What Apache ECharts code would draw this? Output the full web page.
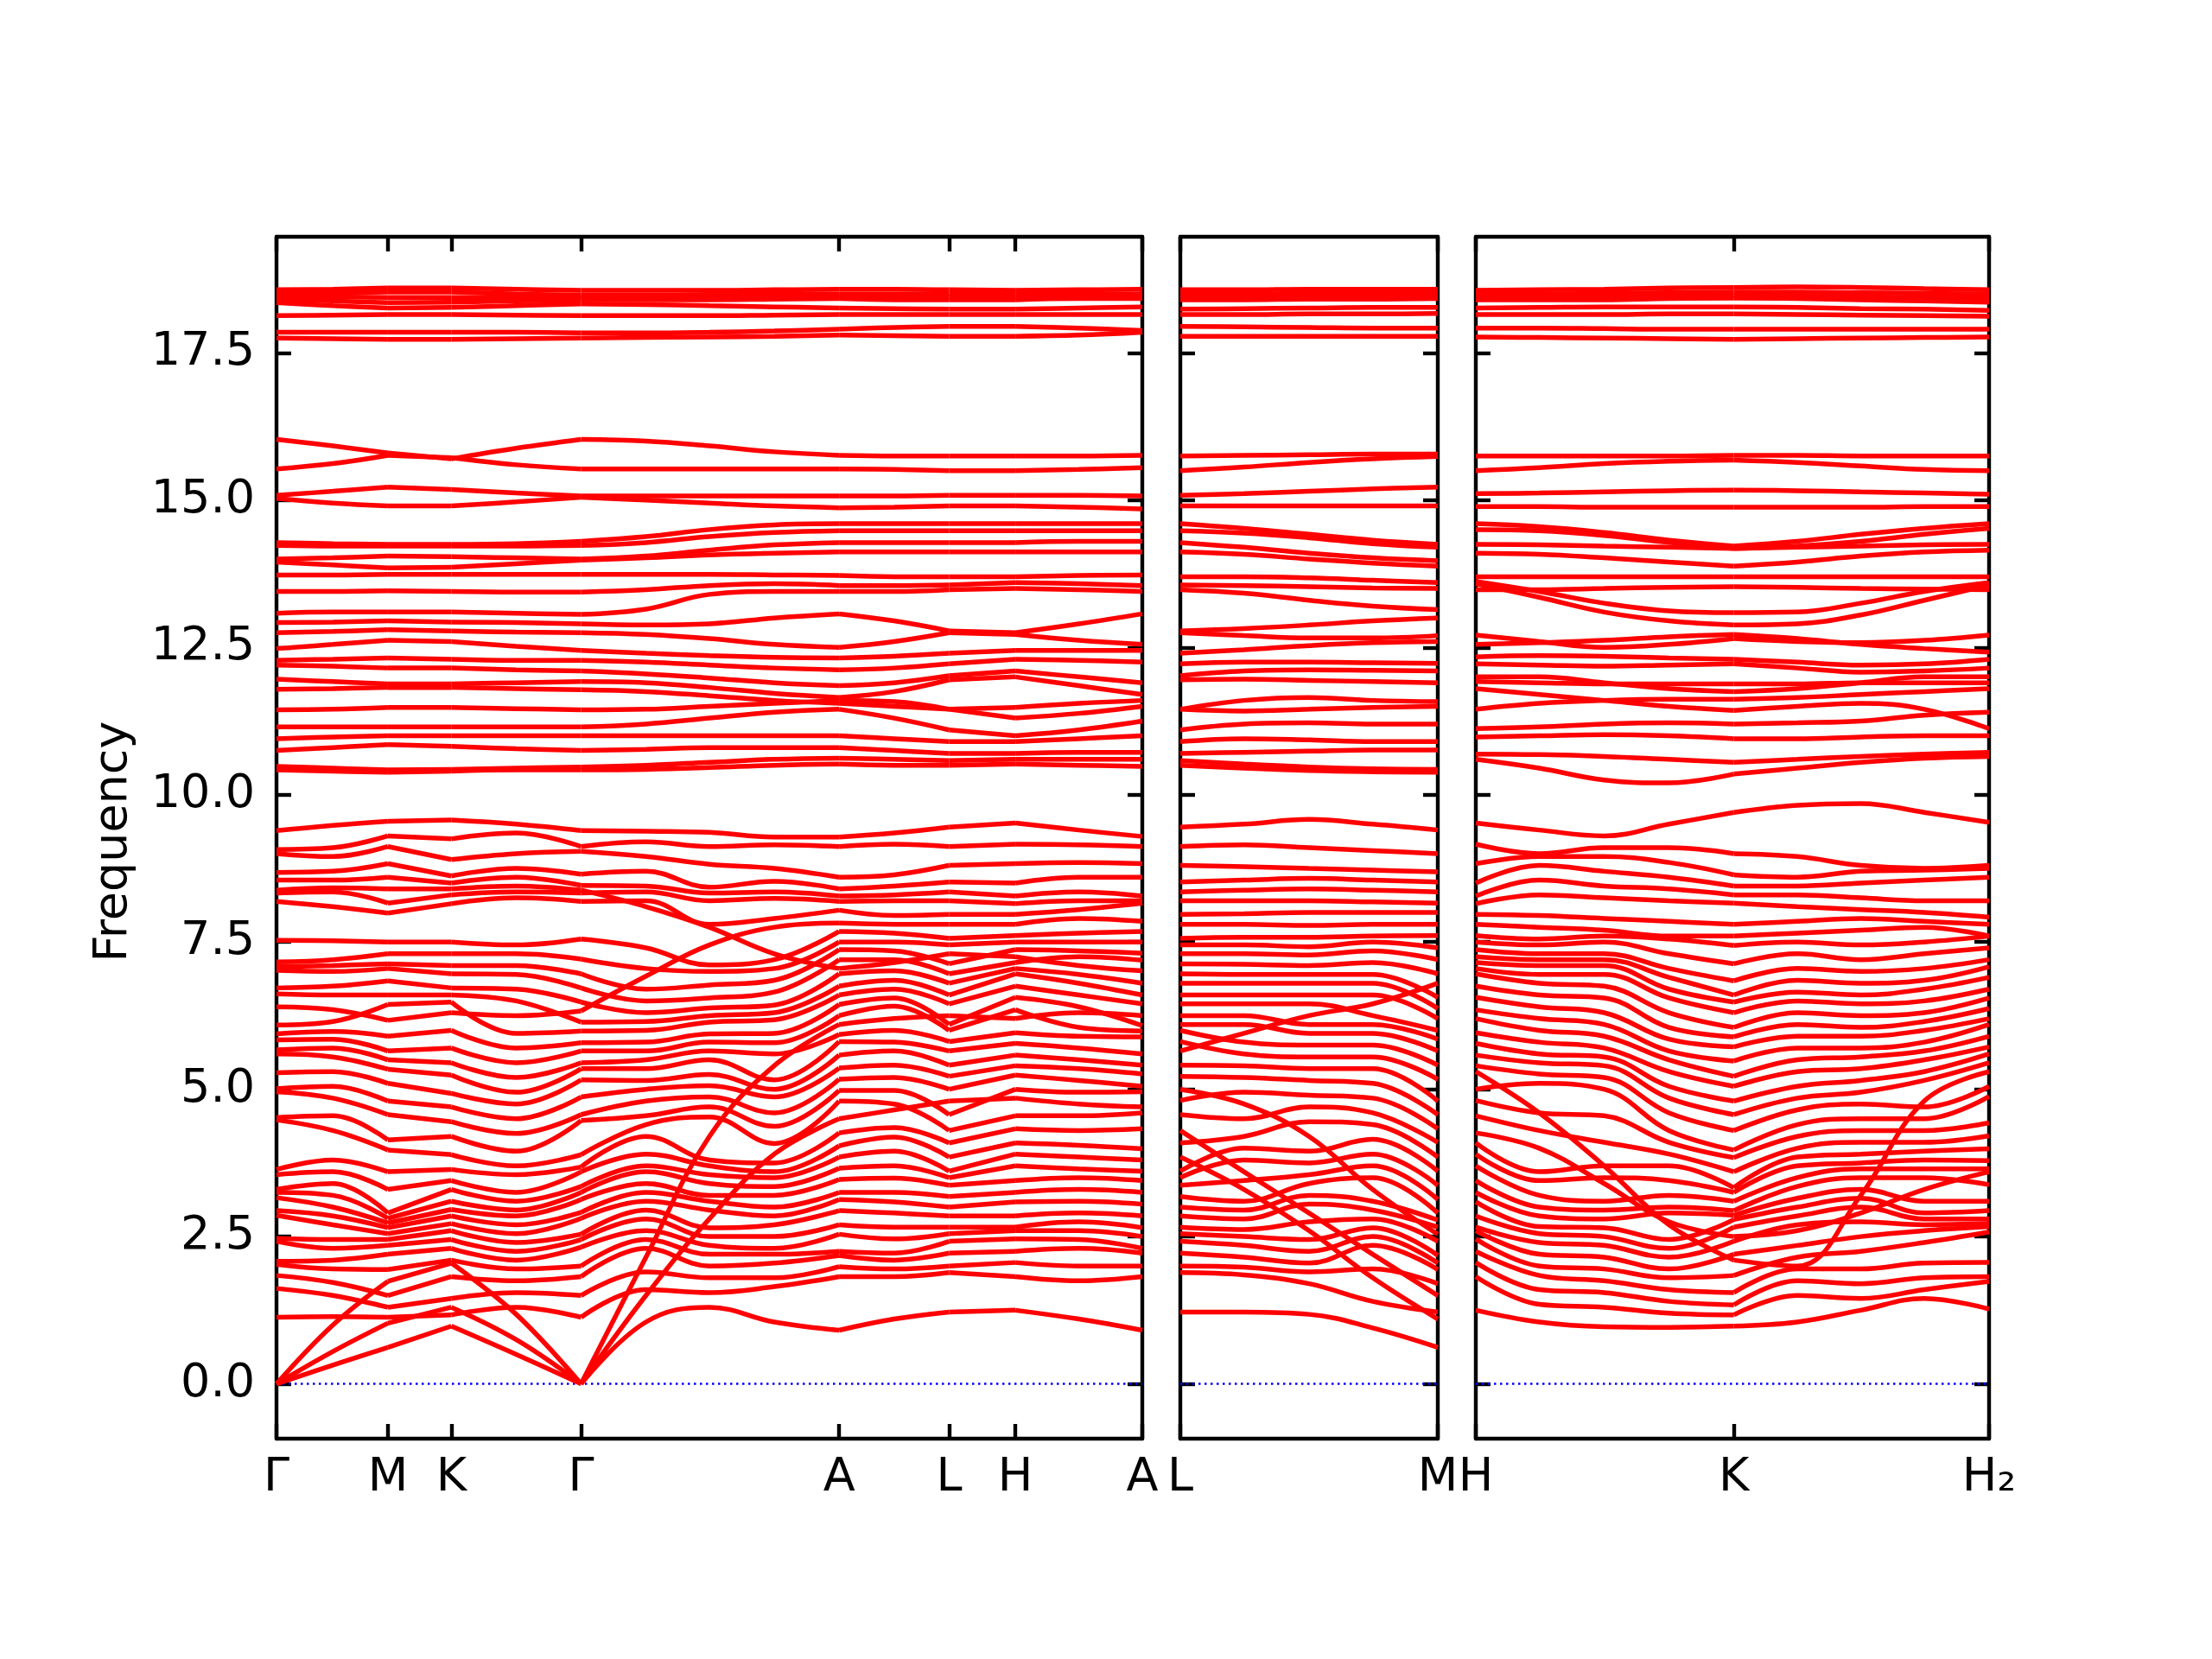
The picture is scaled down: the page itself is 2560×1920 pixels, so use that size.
<!DOCTYPE html>
<html><head><meta charset="utf-8">
<script src="https://cdn.jsdelivr.net/npm/echarts@6/dist/echarts.min.js"></script>
<style>html,body{margin:0;padding:0;background:#fff}#c{width:2560px;height:1920px}</style>
</head><body><div id="c"></div>
<script>
// ---------------- DATA ----------------
// tick labels / high-symmetry points (x in path-distance units)
const p1Ticks = [0, 79, 124, 216, 399, 477, 524, 614];
const p1Labels = ['Γ', 'M', 'K', 'Γ', 'A', 'L', 'H', 'A'];
const p2Ticks = [0, 182];
const p2Labels = ['L', 'M'];
const p3Ticks = [0, 183, 364];
const p3Labels = ['H', 'K', 'H₂'];
const yTicks = [0, 2.5, 5, 7.5, 10, 12.5, 15, 17.5];

// sample positions along each path
const p1X = [0, 40, 79, 124, 170, 216, 262, 307, 353, 399, 438, 477, 524, 569, 614];
const p2X = [0, 45, 91, 136, 182];
const p3X = [0, 45, 91, 137, 183, 228, 273, 318, 364];

// ---- panel 1: high bands (one row per band) ----
const p1Top = [
 [18.57,18.58,18.6,18.6,18.58,18.56,18.56,18.56,18.57,18.58,18.58,18.57,18.56,18.57,18.58],
 [18.52,18.52,18.53,18.53,18.5,18.48,18.48,18.49,18.5,18.5,18.5,18.5,18.5,18.5,18.5],
 [18.46,18.45,18.44,18.44,18.44,18.44,18.45,18.46,18.46,18.46,18.46,18.45,18.44,18.44,18.45],
 [18.40,18.38,18.35,18.36,18.38,18.40,18.40,18.40,18.41,18.42,18.4,18.4,18.4,18.42,18.42],
 [18.35,18.3,18.26,18.27,18.3,18.33,18.32,18.3,18.28,18.26,18.25,18.24,18.24,18.26,18.28],
 [18.13,18.14,18.15,18.15,18.14,18.13,18.13,18.13,18.14,18.15,18.15,18.15,18.15,18.15,18.15],
 [17.85,17.85,17.85,17.85,17.85,17.84,17.84,17.85,17.87,17.9,17.93,17.95,17.95,17.92,17.88],
 [17.75,17.74,17.73,17.73,17.74,17.75,17.76,17.77,17.78,17.8,17.79,17.78,17.78,17.8,17.85],
 [16.03,15.92,15.8,15.7,15.88,16.03,16.0,15.92,15.82,15.76,15.75,15.75,15.75,15.75,15.76],
 [15.53,15.62,15.76,15.72,15.6,15.53,15.53,15.53,15.53,15.53,15.52,15.5,15.5,15.52,15.55],
 [15.08,15.15,15.22,15.18,15.12,15.07,15.07,15.07,15.07,15.07,15.07,15.08,15.08,15.08,15.07],
 [15.03,14.95,14.9,14.9,14.97,15.05,15.0,14.95,14.9,14.87,14.88,14.9,14.9,14.88,14.85]
];
const p1Upper = [
 [14.28,14.26,14.25,14.25,14.26,14.3,14.38,14.5,14.58,14.6,14.6,14.6,14.6,14.6,14.6],
 [14.23,14.22,14.22,14.22,14.22,14.23,14.28,14.38,14.45,14.48,14.48,14.48,14.48,14.48,14.48],
 [14.0,14.02,14.05,14.04,14.02,14.0,14.05,14.15,14.24,14.28,14.28,14.28,14.28,14.3,14.3],
 [13.95,13.9,13.85,13.86,13.92,13.98,14.02,14.07,14.1,14.12,14.12,14.12,14.12,14.12,14.12],
 [13.73,13.73,13.74,13.74,13.74,13.74,13.74,13.74,13.73,13.72,13.7,13.7,13.7,13.72,13.73],
 [13.45,13.45,13.46,13.45,13.44,13.44,13.48,13.55,13.58,13.55,13.55,13.56,13.6,13.58,13.55],
 [13.08,13.1,13.1,13.1,13.08,13.06,13.15,13.4,13.45,13.45,13.45,13.48,13.5,13.48,13.45],
 [12.92,12.93,12.95,12.93,12.92,12.9,12.88,12.9,13.0,13.07,12.95,12.78,12.75,12.9,13.07],
 [12.75,12.77,12.8,12.78,12.76,12.75,12.72,12.65,12.55,12.5,12.6,12.75,12.72,12.62,12.55]
];
const p1Ten = [
 [12.48,12.55,12.62,12.6,12.52,12.45,12.4,12.36,12.33,12.32,12.35,12.4,12.45,12.45,12.45],
 [12.28,12.3,12.32,12.3,12.28,12.28,12.25,12.2,12.15,12.12,12.15,12.22,12.3,12.28,12.25],
 [12.2,12.18,12.15,12.15,12.12,12.1,12.05,11.98,11.9,11.85,11.9,12.02,12.1,12.0,11.9],
 [11.96,11.92,11.88,11.88,11.9,11.92,11.9,11.82,11.72,11.65,11.75,11.95,12.0,11.85,11.7],
 [11.79,11.8,11.82,11.82,11.8,11.78,11.75,11.68,11.6,11.55,11.5,11.45,11.48,11.55,11.6],
 [11.44,11.45,11.48,11.48,11.46,11.44,11.45,11.5,11.55,11.6,11.58,11.45,11.3,11.38,11.5],
 [11.15,11.15,11.15,11.15,11.15,11.15,11.2,11.3,11.4,11.45,11.3,11.1,11.0,11.1,11.25],
 [10.95,10.98,11.0,11.0,11.0,11.0,11.0,11.0,11.0,11.0,10.95,10.9,10.9,10.95,11.0],
 [10.75,10.8,10.85,10.82,10.78,10.75,10.77,10.8,10.8,10.8,10.75,10.7,10.7,10.72,10.72],
 [10.48,10.45,10.42,10.43,10.45,10.47,10.5,10.55,10.6,10.62,10.6,10.58,10.6,10.6,10.6],
 [10.42,10.4,10.38,10.4,10.42,10.42,10.43,10.46,10.5,10.52,10.5,10.5,10.52,10.5,10.48]
];
// ---- panel 1: strongly dispersive bands that cross the others (rows) ----
const p1Cross = [
 [0,0.32,0.62,0.98,0.5,0,1.05,1.3,1.05,0.91,1.1,1.22,1.25,1.1,0.91],
 [0,0.55,1.03,1.3,0.75,0,1.5,2.8,3.9,4.5,4.65,4.8,4.85,4.75,4.7],
 [0,1.0,1.74,2.05,1.18,0,2.15,4.2,5.4,6.1,6.2,6.25,6.2,6.3,6.25],
 [8.38,8.42,8.4,8.4,8.45,8.38,8.1,7.75,7.3,7.05,7.15,7.3,7.25,7.1,7.01],
 [6.4,6.35,6.17,6.3,6.25,6.33,6.92,7.45,7.75,7.82,7.8,7.8,7.8,7.9,7.85]
];
// ---- panel 1: 7.8-9.6 group (one column per sample position, sorted) ----
const p1Eight = [
 [8.19,8.33,8.55,8.68,9.0,9.07,9.39],
 [8.1,8.35,8.55,8.7,8.95,9.1,9.48],
 [7.99,8.16,8.6,8.83,9.12,9.3,9.55],
 [8.15,8.3,8.5,8.62,8.9,9.25,9.57],
 [8.25,8.35,8.6,8.75,9.0,9.35,9.5],
 [8.19,8.33,8.46,8.65,9.04,9.12,9.39],
 [8.2,8.35,8.45,8.7,8.95,9.2,9.38],
 [7.8,8.2,8.33,8.43,8.82,9.12,9.36],
 [7.9,8.24,8.35,8.53,8.75,9.15,9.28],
 [8.04,8.19,8.28,8.4,8.6,9.12,9.28],
 [7.95,8.2,8.3,8.45,8.64,9.16,9.35],
 [7.97,8.2,8.35,8.52,8.8,9.12,9.45],
 [7.97,8.15,8.28,8.5,8.83,9.16,9.52],
 [8.05,8.2,8.35,8.6,8.85,9.15,9.4],
 [8.16,8.2,8.28,8.6,8.83,9.12,9.29]
];
// ---- panel 1: 1-7.7 group (one column per sample position, sorted) ----
const p1Low = [
 [1.13,1.62,1.84,2.03,2.08,2.42,2.47,2.86,2.94,3.16,3.25,3.3,3.55,3.64,4.48,4.52,4.96,5.01,5.28,5.6,5.67,5.84,5.94,6.09,6.62,6.72,7.02,7.08,7.16,7.53],
 [1.14,1.5,1.72,1.95,2.1,2.3,2.45,2.7,2.85,3.0,3.2,3.4,3.6,3.8,4.3,4.55,4.85,5.05,5.3,5.55,5.7,5.85,5.98,6.15,6.6,6.75,7.0,7.1,7.2,7.52],
 [1.13,1.3,1.5,1.94,2.2,2.35,2.45,2.55,2.65,2.73,2.81,2.9,3.3,3.6,3.97,4.14,4.57,4.8,5.1,5.34,5.5,5.65,5.9,6.44,6.6,6.84,7.05,7.13,7.3,7.5],
 [1.17,1.45,1.82,2.1,2.3,2.45,2.6,2.72,2.85,2.96,3.1,3.3,3.45,3.64,3.89,4.2,4.45,4.7,4.93,5.24,5.45,5.7,6.0,6.48,6.6,6.72,6.96,7.1,7.3,7.5],
 [1.3,1.55,1.75,1.95,2.1,2.25,2.4,2.55,2.7,2.85,2.95,3.1,3.25,3.55,3.7,3.95,4.25,4.5,4.75,4.95,5.2,5.45,5.7,5.95,6.5,6.7,6.95,7.1,7.3,7.45],
 [1.13,1.5,1.82,2.0,2.32,2.45,2.54,2.81,2.91,3.13,3.25,3.35,3.6,3.68,3.89,4.47,4.57,4.87,5.16,5.35,5.45,5.65,5.79,5.99,6.14,6.48,6.72,6.96,7.21,7.55],
 [1.6,1.9,2.3,2.45,2.6,2.8,2.95,3.1,3.25,3.4,3.6,3.7,3.9,4.2,4.4,4.55,4.8,5.0,5.15,5.35,5.5,5.65,5.8,6.0,6.15,6.3,6.5,6.7,7.05,7.4],
 [1.55,1.8,2.0,2.2,2.35,2.5,2.65,2.95,3.1,3.2,3.4,3.55,3.7,3.8,4.53,4.7,4.87,5.06,5.25,5.5,5.65,5.8,5.94,6.14,6.25,6.38,6.55,6.77,7.0,7.11],
 [1.65,1.8,2.05,2.2,2.3,2.5,2.7,2.85,3.0,3.2,3.35,3.5,3.6,3.75,4.08,4.37,4.6,4.87,5.0,5.16,5.6,5.79,5.95,6.18,6.3,6.43,6.65,6.85,7.05,7.2],
 [1.82,1.99,2.18,2.25,2.54,2.7,2.94,3.13,3.25,3.47,3.66,3.85,4.04,4.26,4.8,4.98,5.17,5.36,5.58,5.81,5.93,6.25,6.44,6.6,6.75,6.96,7.2,7.37,7.5,7.68],
 [1.82,1.95,2.1,2.22,2.46,2.66,2.9,3.09,3.25,3.49,3.7,3.95,4.19,4.35,4.75,4.98,5.2,5.41,5.65,5.8,6.0,6.41,6.55,6.7,6.85,7.01,7.2,7.35,7.5,7.65],
 [1.89,2.0,2.22,2.42,2.55,2.66,2.85,3.0,3.18,3.37,3.5,3.61,3.85,4.09,4.3,4.57,5.0,5.22,5.41,5.65,5.81,6.0,6.1,6.45,6.6,6.8,6.96,7.13,7.45,7.56],
 [1.82,2.06,2.25,2.46,2.6,2.66,2.85,3.09,3.25,3.45,3.7,3.9,4.09,4.33,4.55,5.0,5.24,5.4,5.58,5.78,5.96,6.35,6.56,6.75,6.96,7.05,7.15,7.37,7.5,7.61],
 [1.75,2.0,2.3,2.45,2.6,2.75,2.9,3.1,3.3,3.5,3.65,3.85,4.05,4.3,4.55,4.95,5.15,5.35,5.5,5.7,5.9,6.05,6.4,6.6,6.8,6.95,7.25,7.35,7.5,7.65],
 [1.82,2.0,2.22,2.3,2.5,2.65,2.85,3.05,3.25,3.45,3.61,3.8,3.99,4.33,4.6,4.96,5.05,5.26,5.41,5.6,5.89,5.99,6.08,6.45,6.6,6.8,7.19,7.31,7.5,7.68]
];

// ---- panel 2 (L -> M) ----
const p2Top = [
 [18.57,18.57,18.58,18.58,18.58],
 [18.5,18.5,18.51,18.52,18.52],
 [18.45,18.45,18.45,18.45,18.46],
 [18.4,18.4,18.41,18.41,18.42],
 [18.24,18.25,18.26,18.27,18.27],
 [18.15,18.15,18.16,18.16,18.17],
 [17.95,17.94,17.93,17.92,17.92],
 [17.78,17.78,17.78,17.78,17.78],
 [15.75,15.76,15.77,15.78,15.78],
 [15.5,15.56,15.64,15.7,15.74],
 [15.08,15.11,15.15,15.19,15.22],
 [14.9,14.9,14.9,14.9,14.9]
];
const p2Upper = [
 [14.6,14.52,14.42,14.32,14.25],
 [14.48,14.44,14.36,14.26,14.2],
 [14.28,14.2,14.1,14.02,13.97],
 [14.12,14.08,14.0,13.93,13.88],
 [13.7,13.7,13.68,13.64,13.6],
 [13.56,13.55,13.53,13.51,13.5],
 [13.48,13.42,13.3,13.2,13.14],
 [12.78,12.82,12.88,12.95,13.0],
 [12.75,12.7,12.66,12.66,12.7]
];
const p2Ten = [
 [12.4,12.46,12.53,12.58,12.6],
 [12.22,12.25,12.25,12.24,12.23],
 [12.02,12.1,12.12,12.11,12.1],
 [11.95,11.96,11.94,11.92,11.9],
 [11.45,11.6,11.65,11.6,11.58],
 [11.45,11.42,11.45,11.48,11.5],
 [11.1,11.2,11.22,11.2,11.2],
 [10.9,10.95,10.93,10.9,10.9],
 [10.7,10.72,10.74,10.76,10.76],
 [10.58,10.52,10.47,10.44,10.43],
 [10.5,10.45,10.41,10.39,10.38]
];
const p2Cross = [
 [4.3,3.6,2.9,2.2,1.5],
 [3.85,3.3,2.6,1.8,1.1],
 [5.0,4.75,4.2,3.3,2.54],
 [5.65,5.95,6.25,6.45,6.8]
];
const p2Eight = [
 [7.8,7.97,8.2,8.35,8.52,8.8,9.12,9.45],
 [7.8,7.98,8.2,8.38,8.55,8.78,9.15,9.5],
 [7.78,8.0,8.2,8.4,8.58,8.75,9.1,9.58],
 [7.8,8.0,8.18,8.38,8.55,8.72,9.05,9.5],
 [7.8,8.0,8.16,8.35,8.52,8.69,9.0,9.4]
];
const p2Low = [
 [1.22,1.89,2.0,2.22,2.42,2.55,2.66,2.85,3.0,3.18,3.37,3.5,3.61,4.09,4.57,4.81,5.22,5.41,5.81,6.0,6.1,6.25,6.45,6.6,6.8,6.96,7.13,7.3,7.45,7.56],
 [1.22,1.85,1.98,2.15,2.35,2.5,2.62,2.8,2.95,3.1,3.45,3.8,4.0,4.2,4.5,4.95,5.2,5.4,5.6,5.8,6.1,6.25,6.45,6.6,6.8,6.95,7.12,7.3,7.45,7.58],
 [1.18,1.7,1.9,2.05,2.25,2.45,2.75,3.05,3.2,3.4,3.55,3.75,3.95,4.45,4.7,4.9,5.15,5.35,5.55,5.75,5.95,6.1,6.45,6.6,6.8,6.95,7.1,7.28,7.42,7.58],
 [0.95,1.4,1.95,2.35,2.5,2.65,2.8,2.95,3.1,3.5,3.7,3.9,4.15,4.4,4.6,4.85,5.1,5.35,5.55,5.75,5.95,6.1,6.25,6.6,6.8,6.95,7.15,7.35,7.5,7.6],
 [0.62,1.22,1.7,1.94,2.05,2.18,2.42,2.66,2.78,2.9,3.13,3.37,3.61,3.85,4.1,4.33,4.57,4.8,5.17,5.41,5.65,5.85,6.0,6.2,6.37,6.56,6.96,7.2,7.4,7.61]
];

// ---- panel 3 (H -> K -> H2) ----
const p3Top = [
 [18.56,18.57,18.58,18.6,18.61,18.62,18.61,18.59,18.57],
 [18.5,18.5,18.51,18.52,18.53,18.53,18.52,18.51,18.5],
 [18.45,18.45,18.45,18.46,18.47,18.46,18.45,18.44,18.44],
 [18.4,18.4,18.4,18.42,18.43,18.42,18.4,18.38,18.36],
 [18.26,18.27,18.28,18.28,18.28,18.27,18.25,18.24,18.22],
 [18.15,18.15,18.15,18.16,18.16,18.15,18.14,18.13,18.12],
 [17.92,17.92,17.91,17.9,17.9,17.9,17.9,17.9,17.9],
 [17.77,17.76,17.75,17.74,17.73,17.74,17.75,17.76,17.77],
 [15.75,15.75,15.75,15.75,15.76,15.76,15.75,15.75,15.75],
 [15.5,15.55,15.62,15.66,15.68,15.64,15.58,15.52,15.5],
 [15.11,15.12,15.14,15.16,15.17,15.16,15.14,15.12,15.1],
 [14.89,14.89,14.88,14.88,14.88,14.88,14.88,14.89,14.89]
];
const p3Upper = [
 [14.6,14.55,14.45,14.32,14.22,14.3,14.42,14.52,14.6],
 [14.5,14.48,14.4,14.28,14.18,14.22,14.3,14.42,14.52],
 [14.25,14.24,14.22,14.2,14.18,14.2,14.22,14.24,14.25],
 [14.1,14.08,14.02,13.95,13.88,13.95,14.05,14.12,14.15],
 [13.7,13.7,13.7,13.7,13.7,13.7,13.7,13.7,13.7],
 [13.48,13.48,13.5,13.52,13.53,13.52,13.5,13.49,13.48],
 [13.62,13.45,13.25,13.12,13.09,13.1,13.25,13.45,13.6],
 [13.58,13.35,13.1,12.95,12.88,12.9,13.05,13.3,13.56],
 [12.71,12.6,12.5,12.55,12.65,12.6,12.58,12.62,12.71]
];
const p3Ten = [
 [12.55,12.58,12.62,12.68,12.72,12.65,12.55,12.48,12.42],
 [12.34,12.36,12.35,12.32,12.3,12.25,12.2,12.22,12.3],
 [12.22,12.2,12.18,12.2,12.22,12.15,12.08,12.1,12.15],
 [12.0,12.0,11.9,11.8,11.75,11.8,11.9,12.0,12.0],
 [11.92,11.9,11.88,11.88,11.88,11.88,11.9,11.9,11.9],
 [11.8,11.7,11.6,11.5,11.43,11.5,11.55,11.45,11.12],
 [11.45,11.55,11.6,11.62,11.62,11.65,11.7,11.75,11.8],
 [11.12,11.15,11.2,11.22,11.2,11.22,11.25,11.35,11.4],
 [10.98,11.0,11.02,11.0,10.95,10.95,10.98,11.0,11.0],
 [10.69,10.68,10.65,10.6,10.55,10.6,10.65,10.69,10.72],
 [10.6,10.45,10.25,10.2,10.35,10.45,10.55,10.62,10.65]
];
const p3Cross = [
 [5.3,4.6,3.7,2.7,2.1,2.0,3.2,4.8,5.3],
 [4.26,4.0,3.4,2.75,2.5,2.6,2.9,3.3,3.6]
];
const p3Eight = [
 [7.8,7.97,8.15,8.28,8.5,8.83,9.16,9.52],
 [7.75,7.95,8.3,8.55,8.8,8.95,9.0,9.4],
 [7.7,7.9,8.25,8.45,8.7,8.95,9.1,9.3],
 [7.6,7.85,8.2,8.4,8.6,8.85,9.1,9.5],
 [7.6,7.8,8.16,8.3,8.45,8.64,9.0,9.7],
 [7.65,7.85,8.1,8.3,8.45,8.6,8.95,9.82],
 [7.7,7.9,8.05,8.25,8.5,8.7,8.8,9.85],
 [7.75,7.85,8.0,8.2,8.55,8.72,8.75,9.7],
 [7.6,7.8,7.92,8.2,8.6,8.75,8.8,9.53]
];
const p3Low = [
 [1.25,1.82,2.06,2.25,2.46,2.6,2.66,2.85,3.09,3.25,3.45,3.7,3.9,4.09,4.55,4.81,5.0,5.4,5.58,5.78,5.96,6.2,6.35,6.56,6.75,6.96,7.05,7.15,7.25,7.37,7.5,7.61],
 [1.05,1.35,1.6,1.84,2.0,2.2,2.4,2.55,2.67,2.85,3.0,3.2,3.45,3.6,4.3,4.6,5.1,5.26,5.45,5.6,5.8,6.0,6.2,6.4,6.6,6.8,6.95,7.1,7.2,7.3,7.45,7.55],
 [0.97,1.3,1.55,1.75,1.95,2.15,2.35,2.5,2.65,2.8,2.95,3.1,3.5,3.7,4.1,4.55,5.0,5.2,5.4,5.55,5.7,5.9,6.1,6.3,6.55,6.75,6.95,7.1,7.2,7.3,7.5,7.6],
 [0.96,1.2,1.4,1.6,1.8,1.95,2.15,2.3,2.45,2.9,3.0,3.2,3.45,3.7,3.9,4.1,4.3,4.6,4.85,5.05,5.3,5.5,5.65,5.85,6.05,6.3,6.55,6.7,6.9,7.05,7.3,7.55],
 [0.98,1.17,1.34,1.55,1.84,2.2,2.42,2.66,2.79,2.86,2.94,3.1,3.25,3.33,3.6,3.84,3.97,4.3,4.57,4.8,5.05,5.22,5.48,5.72,5.89,6.05,6.3,6.48,6.6,6.84,7.13,7.44],
 [1.05,1.5,1.75,1.95,2.15,2.35,2.7,2.85,3.0,3.15,3.35,3.5,3.7,3.85,4.0,4.2,4.4,4.65,4.85,5.05,5.3,5.5,5.7,5.9,6.1,6.3,6.5,6.65,6.85,7.05,7.3,7.5],
 [1.25,1.45,1.7,1.95,2.25,2.5,2.75,3.0,3.15,3.3,3.5,3.65,3.75,3.9,4.1,4.3,4.5,4.75,4.95,5.15,5.35,5.55,5.7,5.9,6.05,6.25,6.45,6.6,6.8,7.0,7.2,7.45],
 [1.45,1.6,1.8,2.05,2.4,2.6,2.7,2.8,2.9,3.1,3.5,3.65,3.8,3.95,4.1,4.3,4.5,4.7,5.15,5.3,5.5,5.65,5.8,6.0,6.15,6.3,6.5,6.7,6.85,7.05,7.3,7.5],
 [1.27,1.74,1.82,2.06,2.58,2.67,2.72,2.8,2.94,3.1,3.38,3.65,3.79,3.99,4.21,4.43,4.88,5.05,5.45,5.6,5.72,5.9,6.1,6.2,6.37,6.55,6.7,6.9,7.08,7.2,7.4,7.6]
];

// ---------------- CHART ----------------
const FONT = 'DejaVu Sans';
const Y_MIN = -0.93, Y_MAX = 19.47;
const AXW = 4.4;
const panels = [
  {grid:{left:320, top:274, width:1002, height:1391}, xs:p1X, max:614, ticks:p1Ticks, labels:p1Labels,
   rows:[p1Top,p1Upper,p1Ten,p1Cross], cols:[p1Eight,p1Low]},
  {grid:{left:1366, top:274, width:298, height:1391}, xs:p2X, max:182, ticks:p2Ticks, labels:p2Labels,
   rows:[p2Top,p2Upper,p2Ten,p2Cross], cols:[p2Eight,p2Low]},
  {grid:{left:1708, top:274, width:594, height:1391}, xs:p3X, max:364, ticks:p3Ticks, labels:p3Labels,
   rows:[p3Top,p3Upper,p3Ten,p3Cross], cols:[p3Eight,p3Low]}
];

const grid = [], xAxis = [], yAxis = [], series = [];
function addBand(pts, p, gi) {
  // one smooth piece between consecutive high-symmetry points (kinks allowed at them)
  for (let k = 0; k < p.ticks.length - 1; k++) {
    const a = p.ticks[k], b = p.ticks[k + 1];
    const seg = pts.filter(q => q[0] >= a && q[0] <= b);
    if (seg.length < 2) continue;
    series.push({type:'line', xAxisIndex:gi*2, yAxisIndex:gi*2, data:seg, symbol:'none', showSymbol:false,
      smooth:0.4, silent:true, animation:false, z:3, lineStyle:{color:'#ff0000', width:5.5}});
  }
}
panels.forEach((p, gi) => {
  grid.push(Object.assign({containLabel:false}, p.grid));
  const lab = (v) => { const i = p.ticks.findIndex(t => Math.abs(t - v) < 0.5); return i >= 0 ? p.labels[i] : ''; };
  const tick = {show:true, inside:true, length:17, lineStyle:{color:'#000', width:AXW}, customValues:p.ticks};
  xAxis.push({type:'value', gridIndex:gi, position:'bottom', min:0, max:p.max,
    axisLine:{show:true, onZero:false, lineStyle:{color:'#000', width:AXW}},
    axisTick:tick, splitLine:{show:false},
    axisLabel:{show:true, customValues:p.ticks, formatter:lab, fontSize:54, fontFamily:FONT, color:'#000', margin:19}});
  xAxis.push({type:'value', gridIndex:gi, position:'top', min:0, max:p.max,
    axisLine:{show:true, onZero:false, lineStyle:{color:'#000', width:AXW}},
    axisTick:tick, splitLine:{show:false}, axisLabel:{show:false}});
  const ytick = {show:true, inside:true, length:17, lineStyle:{color:'#000', width:AXW}, customValues:yTicks};
  yAxis.push({type:'value', gridIndex:gi, position:'left', min:Y_MIN, max:Y_MAX,
    axisLine:{show:true, onZero:false, lineStyle:{color:'#000', width:AXW}},
    axisTick:ytick, splitLine:{show:false},
    axisLabel:{show:gi === 0, customValues:yTicks, formatter:(v) => Number(v).toFixed(1),
      fontSize:54, fontFamily:FONT, color:'#000', margin:25}});
  yAxis.push({type:'value', gridIndex:gi, position:'right', min:Y_MIN, max:Y_MAX,
    axisLine:{show:true, onZero:false, lineStyle:{color:'#000', width:AXW}},
    axisTick:ytick, splitLine:{show:false}, axisLabel:{show:false}});
  // zero reference line
  series.push({type:'line', xAxisIndex:gi*2, yAxisIndex:gi*2, data:[[0,0],[p.max,0]], symbol:'none',
    silent:true, animation:false, z:2, lineStyle:{color:'#0000ff', width:2.5, type:[2.5,4.5]}});
  p.rows.forEach(group => group.forEach(r => addBand(p.xs.map((x, j) => [x, r[j]]), p, gi)));
  p.cols.forEach(cols => {
    const n = cols[0].length;
    for (let i = 0; i < n; i++) addBand(p.xs.map((x, j) => [x, cols[j][i]]), p, gi);
  });
});

const chart = echarts.init(document.getElementById('c'), null, {renderer:'canvas', width:2560, height:1920});
chart.setOption({
  animation:false, backgroundColor:'#ffffff',
  grid, xAxis, yAxis, series,
  graphic:[{type:'text', x:132, y:974, rotation:Math.PI/2,
    style:{text:'Frequency', fontSize:54, fontFamily:FONT, fill:'#000', align:'center', verticalAlign:'middle'}}]
});
</script>
</body></html>
